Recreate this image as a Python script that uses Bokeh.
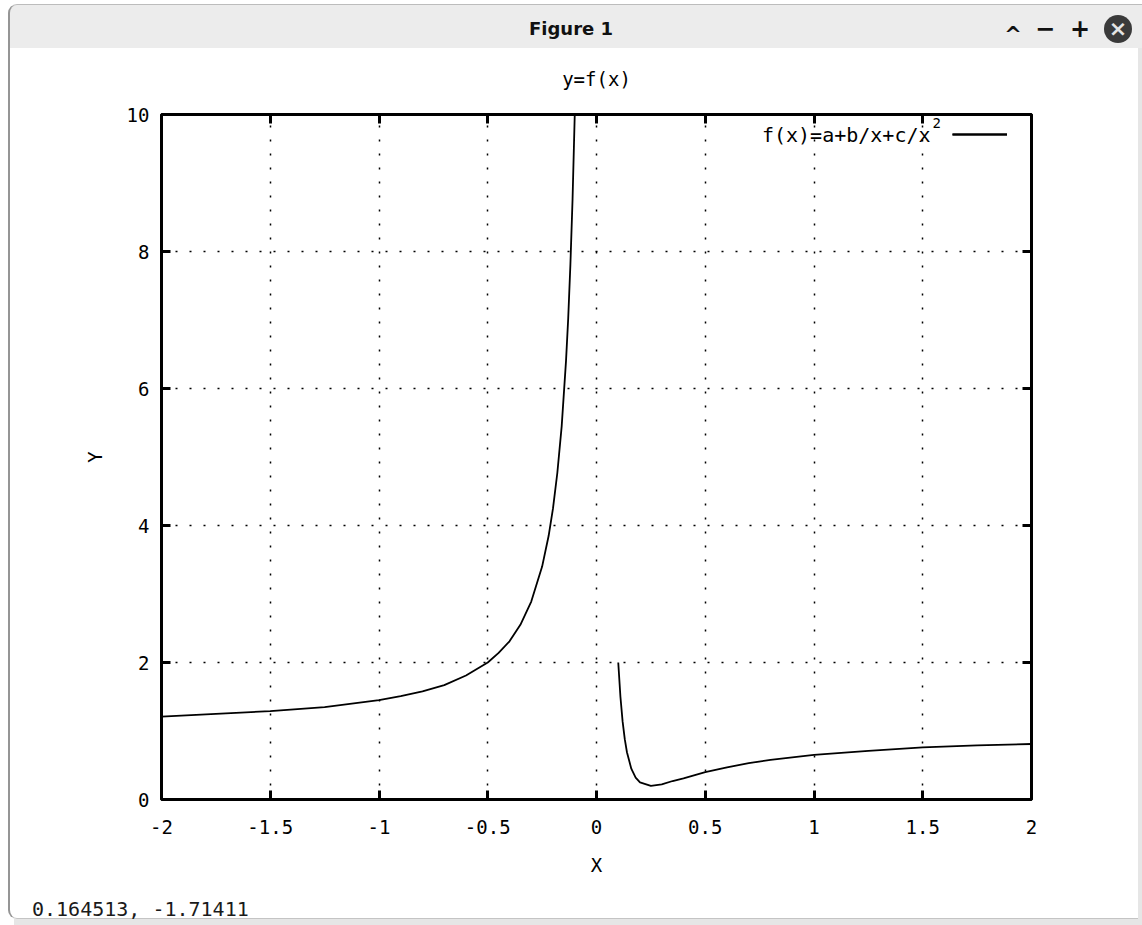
from bokeh.plotting import figure
from bokeh.models import (Range1d, FixedTicker, LinearAxis, Label, Legend, LegendItem, Div)
from bokeh.layouts import column, row
from bokeh.embed import file_html
from bokeh.resources import INLINE

# ---------------- data ----------------
left_x = [-2.0, -1.75, -1.5, -1.25, -1.0, -0.9, -0.8, -0.7, -0.6, -0.5, -0.45, -0.4,
          -0.35, -0.3, -0.25, -0.22, -0.2, -0.18, -0.16, -0.14, -0.13, -0.12, -0.11, -0.1]
left_y = [1.21, 1.25, 1.29, 1.35, 1.45, 1.51, 1.58, 1.67, 1.81, 2.0, 2.14, 2.31,
          2.55, 2.89, 3.4, 3.85, 4.25, 4.77, 5.45, 6.41, 7.03, 7.81, 8.77, 10.0]
right_x = [0.1, 0.11, 0.12, 0.13, 0.14, 0.16, 0.18, 0.2, 0.25, 0.3, 0.35, 0.4, 0.5,
           0.6, 0.7, 0.8, 1.0, 1.25, 1.5, 1.75, 2.0]
right_y = [2.0, 1.5, 1.14, 0.88, 0.69, 0.45, 0.32, 0.25, 0.2, 0.22, 0.27, 0.31, 0.4,
           0.47, 0.53, 0.58, 0.65, 0.71, 0.76, 0.79, 0.81]

x_ticks = [-2, -1.5, -1, -0.5, 0, 0.5, 1, 1.5, 2]
x_tick_labels = ["-2", "-1.5", "-1", "-0.5", "0", "0.5", "1", "1.5", "2"]
y_ticks = [0, 2, 4, 6, 8, 10]
y_tick_labels = ["0", "2", "4", "6", "8", "10"]

title_text = "y=f(x)"
x_label = "X"
y_label = "Y"
legend_text = "f(x)=a+b/x+c/x"
legend_sup = "2"
window_title = "Figure 1"
status_text = "0.164513, -1.71411"

# ---------------- layout ----------------
W, H = 1142, 925
HEAD_H, STATUS_H = 48, 40
OV = 10                                       # figure slides under the title bar by this much
LEFT_W, RIGHT_W = 11, 4
PW, PH = W - LEFT_W - RIGHT_W, H - HEAD_H - STATUS_H + OV
FL, FR, FT, FB = 161, 1031, 114, 799          # frame edges in window pixels
MONO = "DejaVu Sans Mono"
FS = "19px"


def sx(cx):
    return cx - FL


def sy(cy):
    return FB - cy


p = figure(width=PW, height=PH, x_range=Range1d(-2, 2), y_range=Range1d(0, 10),
           output_backend="svg", toolbar_location=None,
           min_border_left=FL - LEFT_W, min_border_right=(W - RIGHT_W) - FR,
           min_border_top=FT - (HEAD_H - OV), min_border_bottom=(H - STATUS_H) - FB,
           border_fill_alpha=0, background_fill_color="white",
           outline_line_color="black", outline_line_width=3)

# title
p.title.text = title_text
p.title.align = "center"
p.title.text_font = MONO
p.title.text_font_size = FS
p.title.text_font_style = "normal"
p.title.text_color = "black"
p.title.standoff = 50

# main axes
for ax, ticks, labels in ((p.xaxis[0], x_ticks, x_tick_labels), (p.yaxis[0], y_ticks, y_tick_labels)):
    ax.ticker = FixedTicker(ticks=ticks)
    ax.major_label_overrides = dict(zip(ticks, labels))
    ax.axis_line_color = None
    ax.major_tick_in = 9
    ax.major_tick_out = 0
    ax.major_tick_line_width = 3
    ax.major_tick_line_color = "black"
    ax.minor_tick_line_color = None
    ax.major_label_text_font = MONO
    ax.major_label_text_font_size = FS
    ax.major_label_text_color = "black"
    ax.axis_label_text_font = MONO
    ax.axis_label_text_font_size = FS
    ax.axis_label_text_font_style = "normal"
    ax.axis_label_text_color = "black"

p.xaxis[0].axis_label = x_label
p.xaxis[0].major_label_standoff = 20
p.xaxis[0].axis_label_standoff = 17
p.yaxis[0].axis_label = y_label
p.yaxis[0].major_label_standoff = 12
p.yaxis[0].axis_label_standoff = 18

# mirrored ticks on top and right (no labels)
for loc, ticks in (("above", x_ticks), ("right", y_ticks)):
    ax = LinearAxis(ticker=FixedTicker(ticks=ticks), axis_line_color=None,
                    major_tick_in=9, major_tick_out=0, major_tick_line_width=3,
                    major_tick_line_color="black", minor_tick_line_color=None,
                    major_label_overrides={t: "" for t in ticks},
                    major_label_text_font_size="1px", major_label_standoff=0)
    p.add_layout(ax, loc)

# dotted grid
for g, ticks in ((p.xgrid[0], x_ticks), (p.ygrid[0], y_ticks)):
    g.ticker = FixedTicker(ticks=ticks)
    g.grid_line_color = "black"
    g.grid_line_width = 1.5
    g.grid_line_dash = "2 12"

# curve
r1 = p.line(left_x, left_y, line_color="black", line_width=1.8)
r2 = p.line(right_x, right_y, line_color="black", line_width=1.8)

# legend (gnuplot style: text, then line sample)
legend = Legend(items=[LegendItem(label=" ", renderers=[r1, r2])],
                location=(sx(952), sy(134) - 10),
                background_fill_alpha=0, border_line_color=None,
                padding=0, margin=0, spacing=0, glyph_width=55, glyph_height=20,
                label_standoff=0, label_width=0, label_height=0,
                label_text_font_size="1px")
p.add_layout(legend, "center")
p.add_layout(Label(x=sx(930), y=sy(134), x_units="screen", y_units="screen",
                   text=legend_text, text_align="right", text_baseline="middle",
                   text_font=MONO, text_font_size="20px", text_color="black"))
p.add_layout(Label(x=sx(932), y=sy(122), x_units="screen", y_units="screen",
                   text=legend_sup, text_align="left", text_baseline="middle",
                   text_font=MONO, text_font_size="14px", text_color="black"))

# ---------------- window chrome (HTML around the figure) ----------------
BORDER = "#959595"
LIGHT = "#e6e6e6"
head_html = f"""
<div style="position:relative;width:{W}px;height:{HEAD_H}px;background:#fff;overflow:hidden;font-family:'DejaVu Sans';">
 <div style="position:absolute;left:8px;top:4px;width:{W - 8}px;height:{HEAD_H - 4}px;box-sizing:border-box;
      background:#ececec;border-top:1px solid #bcbcbc;border-left:2px solid {BORDER};border-top-left-radius:9px;"></div>
 <div style="position:absolute;left:0;top:18px;width:{W}px;text-align:center;font-weight:bold;font-size:18px;
      line-height:22px;color:#111;">{window_title}</div>
 <div style="position:absolute;left:1003px;top:24px;width:20px;text-align:center;font-weight:bold;font-size:21px;
      line-height:22px;color:#111;">^</div>
 <div style="position:absolute;left:1033px;top:18px;width:24px;text-align:center;font-weight:bold;font-size:24px;
      line-height:22px;color:#111;">&#8722;</div>
 <div style="position:absolute;left:1068px;top:18px;width:24px;text-align:center;font-weight:bold;font-size:24px;
      line-height:22px;color:#111;">+</div>
 <div style="position:absolute;left:1104px;top:15px;width:28px;height:28px;border-radius:14px;background:#3a3a3a;
      color:#e4e4e4;text-align:center;font-weight:bold;font-size:22px;line-height:28px;">&#215;</div>
</div>
"""
left_html = f"""
<div style="position:relative;width:{LEFT_W}px;height:{PH}px;">
 <div style="position:absolute;left:8px;top:0;width:2px;height:{PH}px;background:{BORDER};"></div>
</div>
"""
right_html = f"""
<div style="position:relative;width:{RIGHT_W}px;height:{PH}px;">
 <div style="position:absolute;left:0;top:{OV}px;width:{RIGHT_W}px;height:{PH - OV}px;background:{LIGHT};"></div>
</div>
"""
status_html = f"""
<div style="position:relative;width:{W}px;height:{STATUS_H}px;background:#fff;overflow:hidden;">
 <div style="position:absolute;left:8px;top:-20px;width:{W}px;height:{STATUS_H + 14}px;box-sizing:border-box;
      border-left:2px solid {BORDER};border-bottom:1px solid #c4c4c4;border-bottom-left-radius:9px;"></div>
 <div style="position:absolute;left:14px;top:{STATUS_H - 6}px;width:{W}px;height:6px;background:{LIGHT};"></div>
 <div style="position:absolute;left:{W - RIGHT_W}px;top:0;width:{RIGHT_W}px;height:{STATUS_H}px;background:{LIGHT};"></div>
 <div style="position:absolute;left:32px;top:12px;font-family:'{MONO}';font-size:20px;line-height:24px;
      color:#1a1a1a;white-space:pre;">{status_text}</div>
</div>
"""

head = Div(text=head_html, width=W, height=HEAD_H, margin=0)
left_div = Div(text=left_html, width=LEFT_W, height=PH, margin=0)
right_div = Div(text=right_html, width=RIGHT_W, height=PH, margin=0)
status = Div(text=status_html, width=W, height=STATUS_H, margin=0)

middle = row(left_div, p, right_div, spacing=0, margin=(-OV, 0, 0, 0))
layout = column(head, middle, status, spacing=0)

open("out.html", "w").write(file_html(layout, INLINE))
